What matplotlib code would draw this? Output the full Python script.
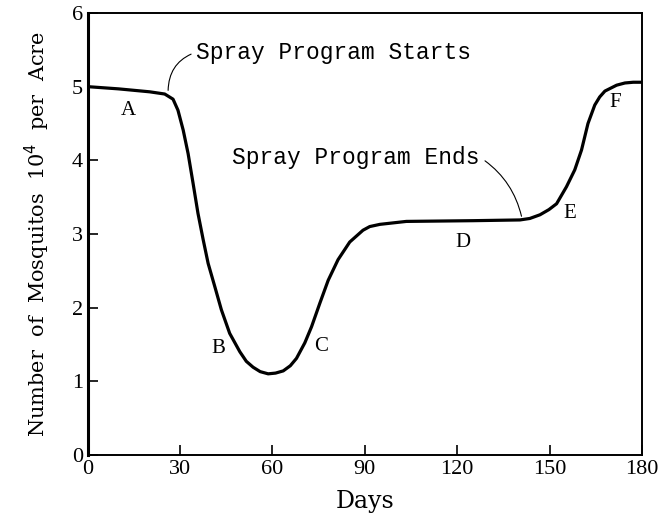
import numpy as np
import matplotlib.pyplot as plt

# mosquito population (10^4 per acre)
days = [0, 10, 20.1, 25.0, 27.7, 29.3, 31.0, 32.6, 34.2, 35.8, 37.5, 39.1, 41.3,
        43.4, 46.1, 49.4, 51.5, 53.7, 56.0, 58.6, 61.0, 63.5, 65.8, 67.8, 70.5,
        72.7, 75.4, 78.1, 81.3, 85.1, 89.4, 91.6, 94.9, 103.5, 125.2, 140.4,
        143.6, 146.9, 149.8, 152.3, 155.5, 158.2, 160.4, 162.5, 164.7, 166.3,
        168.0, 171.8, 174.5, 177.2, 180]
count = [5.0, 4.97, 4.93, 4.90, 4.83, 4.68, 4.41, 4.09, 3.69, 3.28, 2.92, 2.60, 2.28,
         1.97, 1.65, 1.40, 1.27, 1.19, 1.13, 1.10, 1.11, 1.14, 1.21, 1.31, 1.52,
         1.74, 2.06, 2.37, 2.65, 2.89, 3.05, 3.10, 3.13, 3.17, 3.18, 3.19,
         3.21, 3.26, 3.33, 3.41, 3.64, 3.87, 4.14, 4.50, 4.75, 4.86,
         4.94, 5.02, 5.05, 5.06, 5.06]

letters = ['A', 'B', 'C', 'D', 'E', 'F']
letter_x = [13.1, 42.3, 75.9, 121.9, 156.7, 171.2]
letter_y = [4.68, 1.45, 1.47, 2.88, 3.28, 4.79]

xticks = [0, 30, 60, 90, 120, 150, 180]
yticks = [0, 1, 2, 3, 4, 5, 6]

serif = 'Liberation Serif'
mono = 'Liberation Mono'

fig = plt.figure(figsize=(6.7, 5.21), dpi=100)
ax = fig.add_axes([0.131, 0.127, 0.827, 0.848])

ax.plot(days, count, color='black', lw=2.3, solid_capstyle='round',
        solid_joinstyle='round')

for l, x, y in zip(letters, letter_x, letter_y):
    ax.text(x, y, l, fontsize=15, family=serif, ha='center', va='center')

# annotations with curved leaders
ax.annotate('Spray Program Starts', xy=(26.1, 4.95), xytext=(35.3, 5.47),
            fontsize=16.5, family=mono, va='center', ha='left',
            arrowprops=dict(arrowstyle='-', color='black', lw=0.8,
                            connectionstyle='arc3,rad=0.35', shrinkA=2, shrinkB=0,
                            relpos=(0.0, 0.5)))
ax.annotate('Spray Program Ends', xy=(140.9, 3.24), xytext=(47.0, 4.04),
            fontsize=16.5, family=mono, va='center', ha='left',
            arrowprops=dict(arrowstyle='-', color='black', lw=0.8,
                            connectionstyle='arc3,rad=-0.2', shrinkA=2, shrinkB=0,
                            relpos=(1.0, 0.5)))

ax.set_xlim(0, 180)
ax.set_ylim(0, 6)
ax.set_xticks(xticks)
ax.set_yticks(yticks)
ax.tick_params(direction='in', length=7, width=1.2, labelsize=16)
for lab in ax.get_xticklabels() + ax.get_yticklabels():
    lab.set_family(serif)
for s in ax.spines.values():
    s.set_linewidth(1.4)
ax.spines['left'].set_linewidth(2.2)

ax.set_xlabel('Days', fontsize=17, family='DejaVu Serif', labelpad=8)
ax.set_ylabel('Number  of  Mosquitos  10$^4$  per  Acre', fontsize=15,
              family='DejaVu Serif', labelpad=14)

plt.savefig('out.png', dpi=100)
